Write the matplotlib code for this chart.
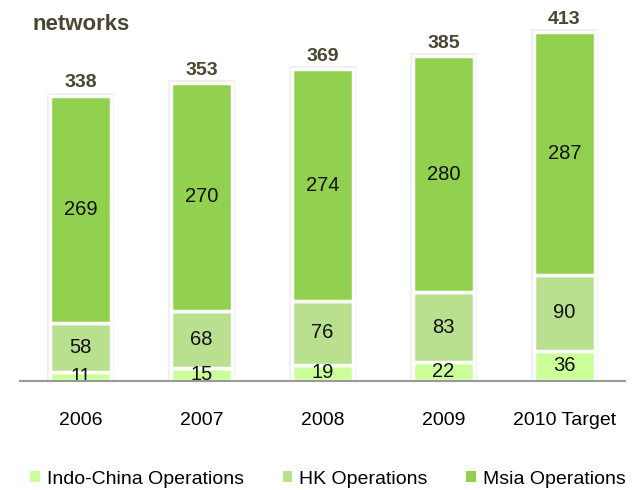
import matplotlib.pyplot as plt
from matplotlib.patches import Patch
import numpy as np

plt.rcParams["font.family"] = ["Liberation Sans", "DejaVu Sans"]

years = ["2006", "2007", "2008", "2009", "2010 Target"]
indo_china = [11, 15, 19, 22, 36]
hk = [58, 68, 76, 83, 90]
msia = [269, 270, 274, 280, 287]

series = [
    ("Indo-China Operations", indo_china, "#CCFF99"),
    ("HK Operations", hk, "#B9E08E"),
    ("Msia Operations", msia, "#92D050"),
]

fig = plt.figure(figsize=(6.37, 4.90), dpi=100)
ax = fig.add_axes([20 / 637, 109 / 490, 605 / 637, 363 / 490])

x = np.arange(len(years))
totals = np.sum([indo_china, hk, msia], axis=0)

# faint grey halo round each stack
ax.bar(x, totals, width=0.5, facecolor="none", edgecolor="#EDEDED",
       linewidth=4, zorder=1)

bottom = np.zeros(len(years))
for label, values, color in series:
    ax.bar(x, values, width=0.5, bottom=bottom, color=color,
           edgecolor="white", linewidth=2.5, zorder=2)
    for xi, b, v in zip(x, bottom, values):
        ax.text(xi, b + v / 2, str(v), ha="center", va="center",
                fontsize=14.5, color="#111111", zorder=3)
    bottom += np.array(values)

for xi, t in zip(x, totals):
    ax.annotate(f"{int(t)}", (xi, t), xytext=(0, 3), textcoords="offset points",
                ha="center", va="bottom", fontsize=14, fontweight="bold",
                color="#4A4630")

ax.set_xlim(-0.5, 4.5)
ax.set_ylim(0, 430)
ax.set_xticks(x)
ax.set_xticklabels(years, fontsize=14)
ax.tick_params(axis="x", length=0, pad=22)
ax.set_yticks([])
for side in ["top", "right", "left"]:
    ax.spines[side].set_visible(False)
ax.spines["bottom"].set_color("#999999")
ax.spines["bottom"].set_linewidth(1.5)
ax.spines["bottom"].set_zorder(4)

fig.text(33 / 637, 1 - 30 / 490, "networks", ha="left", va="baseline",
         fontsize=16, fontweight="bold", color="#4A4630")

handles = [Patch(facecolor=c, edgecolor="none", label=l) for l, _, c in series]
fig.legend(handles=handles, loc="center", bbox_to_anchor=(328 / 637, 1 - 479 / 490),
           ncol=3, frameon=False, fontsize=14, handlelength=0.5,
           handleheight=0.5, handletextpad=0.35, columnspacing=2.0)

fig.savefig("out.png", dpi=100)
